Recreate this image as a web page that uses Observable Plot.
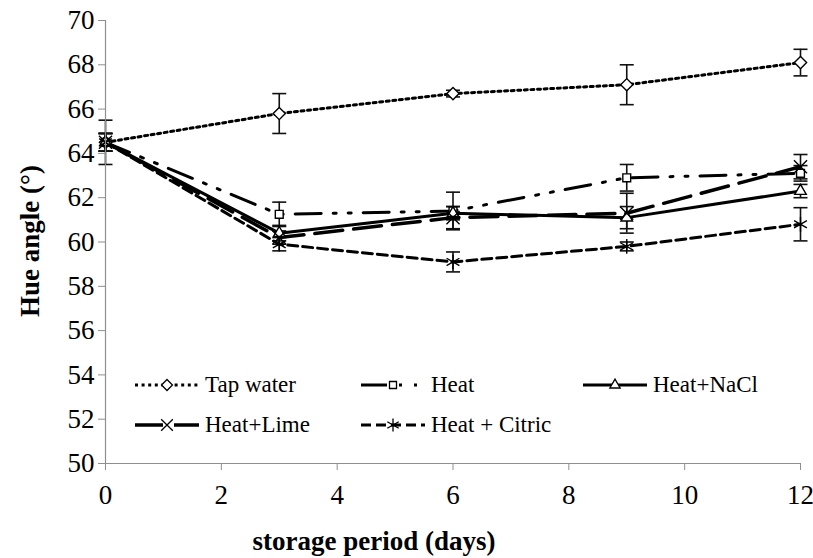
<!DOCTYPE html>
<html>
<head>
<meta charset="utf-8">
<script src="https://cdn.jsdelivr.net/npm/d3@7"></script>
<script src="https://cdn.jsdelivr.net/npm/@observablehq/plot@0.6"></script>
<style>
  body { margin: 0; background: #fff; }
  #wrap { position: relative; width: 813px; height: 558px; overflow: hidden; font-family: "Liberation Serif", LiberationSerif, "Times New Roman", Times, "Nimbus Roman", "Nimbus Roman No9 L", FreeSerif, "DejaVu Serif", "Noto Serif", serif; color: #000; }
  #wrap svg.plot { position: absolute; left: 0; top: 0; }
  .title { position: absolute; font-weight: bold; font-size: 27px; line-height: 1; white-space: nowrap; }
  .leg { position: absolute; display: flex; align-items: center; font-size: 23px; white-space: nowrap; }
  .leg svg { display: block; margin-right: 6px; }
  g[aria-label="x-axis tick"] path, g[aria-label="y-axis tick"] path { stroke: #8f8f8f; }
</style>
</head>
<body>
<div id="wrap"></div>
<script>
// ---- data ----
const days = [0, 3, 6, 9, 12];
const seriesNames = ["Tap water", "Heat", "Heat+NaCl", "Heat+Lime", "Heat + Citric"];
const tapWater     = [64.5, 65.8, 66.7, 67.1, 68.1];
const tapWaterErr  = [1.0, 0.9, 0.15, 0.9, 0.6];
const heat         = [64.5, 61.25, 61.4, 62.9, 63.1];
const heatErr      = [0.4, 0.55, 0.85, 0.6, 0.35];
const heatNaCl     = [64.5, 60.4, 61.3, 61.1, 62.3];
const heatNaClErr  = [0.4, 0.35, 0.3, 0.5, 0.3];
const heatLime     = [64.5, 60.2, 61.1, 61.3, 63.4];
const heatLimeErr  = [0.4, 0.3, 0.5, 0.9, 0.55];
const heatCitric   = [64.5, 59.9, 59.1, 59.8, 60.8];
const heatCitricErr= [0.4, 0.3, 0.45, 0.2, 0.75];
const yTicks = [50, 52, 54, 56, 58, 60, 62, 64, 66, 68, 70];
const xTicks = [0, 2, 4, 6, 8, 10, 12];
const xLabel = "storage period (days)";
const yLabel = "Hue angle (°)";

const values = [tapWater, heat, heatNaCl, heatLime, heatCitric];
const errs = [tapWaterErr, heatErr, heatNaClErr, heatLimeErr, heatCitricErr];

// ---- styles ----
const FONT = '"Liberation Serif", LiberationSerif, "Times New Roman", Times, "Nimbus Roman", "Nimbus Roman No9 L", FreeSerif, "DejaVu Serif", "Noto Serif", serif';
const styles = {
  "Tap water":     {dash: "3,3.6", width: 3, symbol: "diamond2", r: 5.5, d3sym: d3.symbolDiamond2},
  "Heat":          {dash: "26,12,3,12,3,12", width: 3, symbol: "square2", r: 5, d3sym: d3.symbolSquare2},
  "Heat+NaCl":     {dash: null, width: 3, symbol: "triangle2", r: 5.5, d3sym: d3.symbolTriangle2},
  "Heat+Lime":     {dash: "28,11", width: 3.5, symbol: "times", r: 6, d3sym: d3.symbolTimes},
  "Heat + Citric": {dash: "10,5", width: 3, symbol: "asterisk", r: 7, d3sym: d3.symbolAsterisk}
};

const rows = seriesNames.flatMap((name, i) =>
  days.map((day, j) => ({series: name, day, hue: values[i][j], err: errs[i][j]})));

const capSymbol = {
  draw(ctx, size) {
    const h = Math.sqrt(size / Math.PI);
    ctx.moveTo(-h, 0); ctx.lineTo(h, 0);
  }
};

const marks = [];
marks.push(Plot.ruleX(rows, {x: "day", y1: d => d.hue - d.err, y2: d => d.hue + d.err, stroke: "#111", strokeWidth: 1.6}));
marks.push(Plot.dot(rows, {x: "day", y: d => d.hue + d.err, symbol: capSymbol, r: 7, stroke: "#111", strokeWidth: 1.6}));
marks.push(Plot.dot(rows, {x: "day", y: d => d.hue - d.err, symbol: capSymbol, r: 7, stroke: "#111", strokeWidth: 1.6}));
for (const name of seriesNames) {
  const s = styles[name];
  marks.push(Plot.line(rows.filter(d => d.series === name), {
    x: "day", y: "hue", stroke: "#000", strokeWidth: s.width,
    strokeDasharray: s.dash || undefined, strokeLinejoin: "round"
  }));
}
for (const name of seriesNames) {
  const s = styles[name];
  marks.push(Plot.dot(rows.filter(d => d.series === name), {
    x: "day", y: "hue", symbol: s.symbol, r: s.r, stroke: "#000", strokeWidth: 1.4,
    fill: (s.symbol === "times" || s.symbol === "asterisk") ? "none" : "white"
  }));
}
marks.push(Plot.ruleX([0], {stroke: "#8f8f8f", strokeWidth: 1.2}));
marks.push(Plot.ruleY([50], {stroke: "#8f8f8f", strokeWidth: 1.2}));
marks.push(Plot.axisY({ticks: yTicks, tickSize: 7, tickPadding: 4, label: null, fontSize: 27, fontFamily: FONT}));
marks.push(Plot.axisX({ticks: xTicks, tickSize: 7, tickPadding: 14, label: null, fontSize: 27, fontFamily: FONT}));

const chart = Plot.plot({
  width: 813,
  height: 558,
  marginLeft: 105,
  marginRight: 13,
  marginTop: 20,
  marginBottom: 95,
  x: {domain: [0, 12]},
  y: {domain: [50, 70]},
  style: {fontFamily: FONT, fontSize: "27px", color: "#000", background: "white"},
  marks
});
chart.classList.add("plot");
const wrap = document.getElementById("wrap");
wrap.appendChild(chart);

const xt = document.createElement("div");
xt.className = "title"; xt.textContent = xLabel;
xt.style.left = "374px"; xt.style.top = "541px"; xt.style.transform = "translate(-50%,-50%)";
wrap.appendChild(xt);
const yt = document.createElement("div");
yt.className = "title"; yt.textContent = yLabel;
yt.style.left = "30px"; yt.style.top = "241px"; yt.style.transform = "translate(-50%,-50%) rotate(-90deg)";
wrap.appendChild(yt);

const legendPos = {
  "Tap water": [135, 385], "Heat": [361, 385], "Heat+NaCl": [583, 385],
  "Heat+Lime": [135, 425], "Heat + Citric": [361, 425]
};
for (const name of seriesNames) {
  const s = styles[name];
  const [lx, ly] = legendPos[name];
  const item = document.createElement("div");
  item.className = "leg";
  item.style.left = lx + "px"; item.style.top = (ly - 15) + "px"; item.style.height = "30px";
  const w = 64, h = 20;
  const svg = d3.create("svg").attr("width", w).attr("height", h);
  const line = svg.append("line").attr("x1", 0).attr("x2", w).attr("y1", h / 2).attr("y2", h / 2)
    .attr("stroke", "#000").attr("stroke-width", s.width);
  if (s.dash) line.attr("stroke-dasharray", s.dash);
  const sym = d3.symbol(s.d3sym, Math.PI * s.r * s.r * 0.8);
  svg.append("path").attr("d", sym()).attr("transform", `translate(${w / 2},${h / 2})`)
    .attr("stroke", "#000").attr("stroke-width", 1.3)
    .attr("fill", (s.symbol === "times" || s.symbol === "asterisk") ? "none" : "white");
  item.appendChild(svg.node());
  const span = document.createElement("span");
  span.textContent = name;
  item.appendChild(span);
  wrap.appendChild(item);
}
</script>
</body>
</html>
